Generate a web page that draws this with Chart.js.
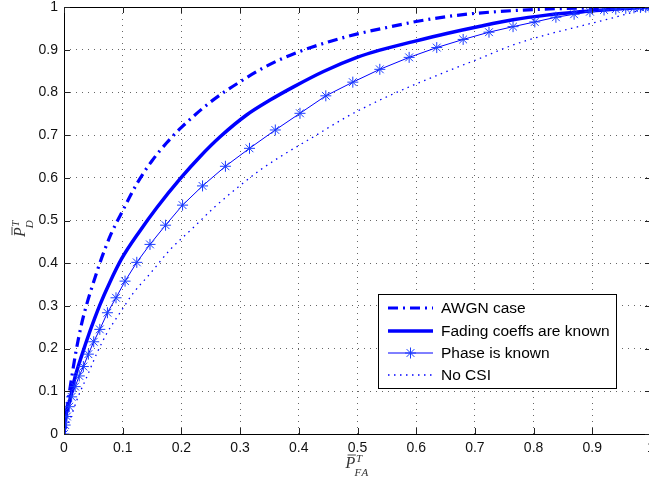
<!DOCTYPE html>
<html>
<head>
<meta charset="utf-8">
<script src="https://cdn.jsdelivr.net/npm/chart.js@4/dist/chart.umd.min.js"></script>
<style>
  html, body { margin: 0; padding: 0; overflow: hidden; background: #fff; }
  #wrap { position: absolute; left: 0; top: 0; width: 660px; height: 484px; }
</style>
</head>
<body>
<div id="wrap"><canvas id="roc" width="660" height="484"></canvas></div>
<script>
// Tick values for both axes
const tickValues = [0, 0.1, 0.2, 0.3, 0.4, 0.5, 0.6, 0.7, 0.8, 0.9, 1];

// Series labels
const seriesLabels = ['AWGN case', 'Fading coeffs are known', 'Phase is known', 'No CSI'];

// AWGN case
const awgnX = [0, 0.005, 0.01, 0.02, 0.03, 0.04, 0.05, 0.06, 0.07, 0.08, 0.1, 0.125, 0.15, 0.175, 0.2, 0.25, 0.3, 0.35, 0.4, 0.45, 0.5, 0.55, 0.6, 0.65, 0.7, 0.8, 0.9, 1];
const awgnY = [0, 0.06, 0.105, 0.19, 0.258, 0.31, 0.354, 0.396, 0.434, 0.468, 0.523, 0.588, 0.64, 0.682, 0.718, 0.778, 0.825, 0.865, 0.895, 0.918, 0.937, 0.952, 0.966, 0.977, 0.985, 0.994, 0.998, 1];

// Fading coefficients known
const fadingX = [0, 0.002, 0.01, 0.019, 0.03, 0.044, 0.061, 0.078, 0.098, 0.129, 0.158, 0.198, 0.232, 0.266, 0.311, 0.351, 0.391, 0.442, 0.499, 0.538, 0.595, 0.652, 0.709, 0.765, 0.822, 0.879, 0.936, 1];
const fadingY = [0, 0.033, 0.08, 0.134, 0.183, 0.24, 0.302, 0.355, 0.41, 0.475, 0.53, 0.598, 0.65, 0.696, 0.747, 0.782, 0.813, 0.849, 0.882, 0.899, 0.919, 0.938, 0.955, 0.97, 0.981, 0.989, 0.995, 1];

// Phase known (marked points)
const phaseX = [0, 0.002, 0.005, 0.009, 0.013, 0.019, 0.026, 0.033, 0.0415, 0.0506, 0.061, 0.074, 0.0886, 0.104, 0.124, 0.1465, 0.173, 0.202, 0.236, 0.275, 0.316, 0.36, 0.402, 0.446, 0.492, 0.538, 0.588, 0.635, 0.68, 0.724, 0.765, 0.802, 0.838, 0.869, 0.896, 0.92, 0.94, 0.957, 0.971, 0.982, 0.991, 0.997, 1];
const phaseY = [0, 0.021, 0.041, 0.064, 0.087, 0.111, 0.136, 0.158, 0.187, 0.216, 0.245, 0.284, 0.319, 0.358, 0.402, 0.444, 0.489, 0.536, 0.581, 0.627, 0.669, 0.712, 0.751, 0.792, 0.824, 0.854, 0.882, 0.905, 0.924, 0.941, 0.954, 0.965, 0.976, 0.983, 0.989, 0.993, 0.995, 0.997, 0.998, 0.999, 0.9995, 1, 1];

// No CSI
const noCsiX = [0, 0.01, 0.024, 0.039, 0.056, 0.073, 0.095, 0.118, 0.147, 0.181, 0.22, 0.257, 0.3, 0.334, 0.368, 0.425, 0.482, 0.538, 0.595, 0.652, 0.709, 0.765, 0.822, 0.879, 0.936, 1];
const noCsiY = [0, 0.033, 0.087, 0.134, 0.189, 0.236, 0.283, 0.33, 0.376, 0.432, 0.483, 0.532, 0.582, 0.618, 0.649, 0.696, 0.743, 0.782, 0.817, 0.849, 0.88, 0.911, 0.935, 0.955, 0.975, 1];

const pts = (xs, ys) => xs.map((x, i) => ({ x, y: ys[i] }));
const BLUE = '#0000ff';

const datasets = [
  { label: seriesLabels[0], data: pts(awgnX, awgnY), borderColor: BLUE, borderWidth: 3.2,
    borderDash: [10, 5, 2, 5], pointRadius: 0, cubicInterpolationMode: 'monotone', order: 4 },
  { label: seriesLabels[1], data: pts(fadingX, fadingY), borderColor: BLUE, borderWidth: 3.5,
    pointRadius: 0, cubicInterpolationMode: 'monotone', order: 3 },
  { label: seriesLabels[2], data: pts(phaseX, phaseY), borderColor: BLUE, borderWidth: 1,
    pointStyle: 'star', pointRadius: 5.5, pointBorderWidth: 1, pointBorderColor: '#1a3cff',
    pointBackgroundColor: 'transparent', tension: 0, order: 2 },
  { label: seriesLabels[3], data: pts(noCsiX, noCsiY), borderColor: BLUE, borderWidth: 1.3,
    borderDash: [1.5, 4.5], pointRadius: 0, cubicInterpolationMode: 'monotone', order: 1 }
];

const tickFont = { family: '"Liberation Sans", Arial, sans-serif', size: 14 };
const fmt = v => (Math.abs(v) < 1e-9 ? '0' : Math.abs(v - 1) < 1e-9 ? '1' : v.toFixed(1));

// Box, inward ticks, axis titles and the legend
const decorations = {
  id: 'decorations',
  afterDatasetsDraw(chart) {
    const { ctx, chartArea: a, scales } = chart;
    ctx.save();
    ctx.strokeStyle = '#000';
    ctx.lineWidth = 1;
    ctx.setLineDash([]);
    // frame
    ctx.strokeRect(Math.round(a.left) + 0.5, Math.round(a.top) + 0.5,
      Math.round(a.right - a.left), Math.round(a.bottom - a.top));
    // inward ticks
    const L = 6;
    ctx.strokeStyle = '#222';
    ctx.beginPath();
    scales.x.ticks.forEach(t => {
      const px = Math.round(scales.x.getPixelForValue(t.value)) + 0.5;
      ctx.moveTo(px, a.bottom); ctx.lineTo(px, a.bottom - L);
      ctx.moveTo(px, a.top); ctx.lineTo(px, a.top + L);
    });
    scales.y.ticks.forEach(t => {
      const py = Math.round(scales.y.getPixelForValue(t.value)) + 0.5;
      ctx.moveTo(a.left, py); ctx.lineTo(a.left + L, py);
      ctx.moveTo(a.right, py); ctx.lineTo(a.right - L, py);
    });
    ctx.stroke();
    ctx.restore();
  },
  afterDraw(chart) {
    const { ctx } = chart;
    drawMathLabel(ctx, 357, 468, 'FA', false);
    drawMathLabel(ctx, 25, 228, 'D', true);
    drawLegend(chart);
  }
};

function drawMathLabel(ctx, cx, cy, sub, rotated) {
  ctx.save();
  ctx.translate(cx, cy);
  if (rotated) ctx.rotate(-Math.PI / 2);
  ctx.fillStyle = '#333';
  ctx.strokeStyle = '#333';
  const big = 'italic 16px "Liberation Serif", "DejaVu Serif", serif';
  const small = 'italic 11px "Liberation Serif", "DejaVu Serif", serif';
  ctx.font = big;
  const pw = ctx.measureText('P').width;
  ctx.font = small;
  const sw = Math.max(ctx.measureText('T').width, ctx.measureText(sub).width + sub.length * 0.5);
  const x0 = -(pw + sw) / 2;
  ctx.textBaseline = 'alphabetic';
  ctx.textAlign = 'left';
  ctx.font = big;
  ctx.fillText('P', x0, 0);
  ctx.lineWidth = 0.9;
  ctx.beginPath();
  ctx.moveTo(x0 + 2, -13);
  ctx.lineTo(x0 + pw + 0.5, -13);
  ctx.stroke();
  ctx.font = small;
  ctx.fillText('T', x0 + pw + 0.5, -6);
  let sx = x0 + pw - 1;
  for (const ch of sub) {
    ctx.fillText(ch, sx, 7.5);
    sx += ctx.measureText(ch).width + 0.5;
  }
  ctx.restore();
}

function drawLegend(chart) {
  const { ctx } = chart;
  const bx = 378.5, by = 294.5, bw = 238, bh = 94;
  ctx.save();
  ctx.fillStyle = '#fff';
  ctx.fillRect(bx, by, bw, bh);
  ctx.strokeStyle = '#000';
  ctx.lineWidth = 1;
  ctx.setLineDash([]);
  ctx.strokeRect(bx, by, bw, bh);
  const rows = [308, 331, 353, 375];
  chart.data.datasets.forEach((ds, i) => {
    const y = rows[i];
    ctx.save();
    ctx.strokeStyle = ds.borderColor;
    ctx.lineWidth = ds.borderWidth;
    ctx.setLineDash(ds.borderDash || []);
    ctx.beginPath();
    ctx.moveTo(388, y);
    ctx.lineTo(433, y);
    ctx.stroke();
    ctx.restore();
    if (ds.pointStyle === 'star') {
      ctx.save();
      ctx.strokeStyle = ds.pointBorderColor;
      ctx.fillStyle = 'transparent';
      Chart.helpers.drawPoint(ctx, { pointStyle: 'star', radius: ds.pointRadius, borderWidth: 1, rotation: 0 }, 410.5, y);
      ctx.restore();
    }
    ctx.fillStyle = '#000';
    ctx.font = '15.5px "Liberation Sans", Arial, sans-serif';
    ctx.textBaseline = 'middle';
    ctx.textAlign = 'left';
    ctx.fillText(ds.label, 441, y + 1);
  });
  ctx.restore();
}

new Chart(document.getElementById('roc'), {
  type: 'line',
  data: { datasets },
  plugins: [decorations],
  options: {
    responsive: false,
    animation: false,
    devicePixelRatio: 1,
    layout: { padding: { top: 7, right: 9, left: 0, bottom: 0 } },
    plugins: { legend: { display: false }, tooltip: { enabled: false } },
    scales: {
      x: {
        type: 'linear', min: 0, max: 1,
        afterBuildTicks: s => { s.ticks = tickValues.map(v => ({ value: v })); },
        afterFit: s => { s.height = 50; s.paddingLeft = 0; s.paddingRight = 0; },
        ticks: { callback: fmt, font: tickFont, color: '#111', padding: 6, maxRotation: 0, autoSkip: false },
        grid: {
          drawTicks: false, lineWidth: 1,
          color: c => (c.tick && (c.tick.value === 0 || c.tick.value === 1)) ? 'rgba(0,0,0,0)' : 'rgba(0,0,0,0.6)'
        },
        border: { display: false, dash: [1, 5] }
      },
      y: {
        type: 'linear', min: 0, max: 1,
        afterBuildTicks: s => { s.ticks = tickValues.map(v => ({ value: v })); },
        afterFit: s => { s.width = 64; s.paddingTop = 0; s.paddingBottom = 0; },
        ticks: { callback: fmt, font: tickFont, color: '#111', padding: 6, autoSkip: false },
        grid: {
          drawTicks: false, lineWidth: 1,
          color: c => (c.tick && (c.tick.value === 0 || c.tick.value === 1)) ? 'rgba(0,0,0,0)' : 'rgba(0,0,0,0.6)'
        },
        border: { display: false, dash: [1, 5] }
      }
    }
  }
});
</script>
</body>
</html>
